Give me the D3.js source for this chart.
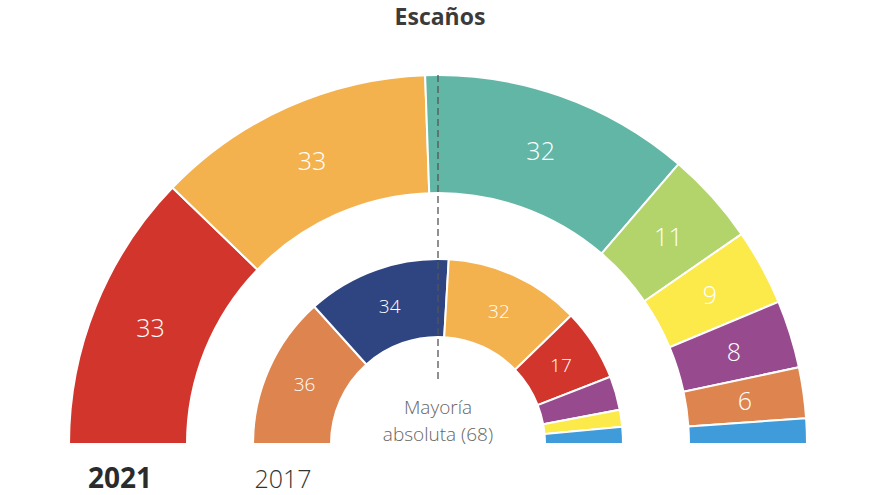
<!DOCTYPE html>
<html><head><meta charset="utf-8">
<script src="https://cdn.jsdelivr.net/npm/d3@7"></script>
<style>
html,body{margin:0;padding:0;background:#fff;}
text{font-family:"Open Sans",sans-serif;}
</style></head>
<body><svg id="c" width="880" height="495"></svg>
<script>
const parties2021 = ["PSC","ERC","Junts","Vox","CUP","ECP","Cs","PP"];
const seats2021   = [33,33,32,11,9,8,6,3];
const parties2017 = ["Cs","JxCat","ERC","PSC","CatComú","CUP","PP"];
const seats2017   = [36,34,32,17,8,4,4];
const partyColors = {PSC:"#d1352c",ERC:"#f4b24f",Junts:"#62b6a6",JxCat:"#2f4582",Vox:"#b2d46a",CUP:"#fce94a",ECP:"#984a8f",CatComú:"#984a8f",Cs:"#dd844f",PP:"#3f9bd9"};
const title = "Escaños";
const majority = 68;
const totalSeats = 135;

const svg = d3.select("#c");
const cx = 438, cy = 444;

function ring(parties, seats, rIn, rOut, fs, minLabel){
  const data = parties.map((p,i)=>({party:p, seats:seats[i]}));
  const pie = d3.pie().sort(null).value(d=>d.seats)
    .startAngle(-Math.PI/2).endAngle(Math.PI/2);
  const arc = d3.arc().innerRadius(rIn).outerRadius(rOut);
  const g = svg.append("g").attr("transform",`translate(${cx},${cy})`);
  const arcs = pie(data);
  g.selectAll("path").data(arcs).join("path")
    .attr("d",arc).attr("fill",d=>partyColors[d.data.party])
    .attr("stroke","#fff").attr("stroke-width",2).attr("stroke-linejoin","miter");
  g.selectAll("text").data(arcs.filter(d=>d.data.seats>=minLabel)).join("text")
    .attr("transform",d=>`translate(${arc.centroid(d)})`)
    .attr("text-anchor","middle").attr("dy","0.36em")
    .attr("fill","#fff").attr("font-size",fs).attr("font-weight",300)
    .text(d=>d.data.seats);
}
ring(parties2021, seats2021, 251, 369, 25, 5);
ring(parties2017, seats2017, 107, 185, 19, 10);

// majority line
const ang = d3.scaleLinear().domain([0,totalSeats]).range([-Math.PI/2,Math.PI/2]);
const a = ang(totalSeats/2);
svg.append("line")
  .attr("x1",cx+Math.sin(a)*369).attr("y1",cy-Math.cos(a)*369)
  .attr("x2",cx+Math.sin(a)*64).attr("y2",cy-Math.cos(a)*64)
  .attr("stroke","#555").attr("stroke-width",1.3).attr("stroke-dasharray","7,4");

svg.append("text").attr("x",cx).attr("y",414).attr("text-anchor","middle")
  .attr("fill","#666").attr("font-size",19).attr("font-weight",300).text("Mayoría");
svg.append("text").attr("x",cx).attr("y",441).attr("text-anchor","middle")
  .attr("fill","#666").attr("font-size",19).attr("font-weight",300).text(`absoluta (${majority})`);

svg.append("text").attr("x",440).attr("y",25).attr("text-anchor","middle")
  .attr("fill","#3b3b3b").attr("font-size",23).attr("font-weight","bold").text(title);
svg.append("text").attr("x",120).attr("y",488).attr("text-anchor","middle")
  .attr("fill","#2b2b2b").attr("font-size",28).attr("font-weight","bold").text("2021");
svg.append("text").attr("x",283).attr("y",488).attr("text-anchor","middle")
  .attr("fill","#333").attr("font-size",25).attr("font-weight",300).text("2017");
</script></body></html>
